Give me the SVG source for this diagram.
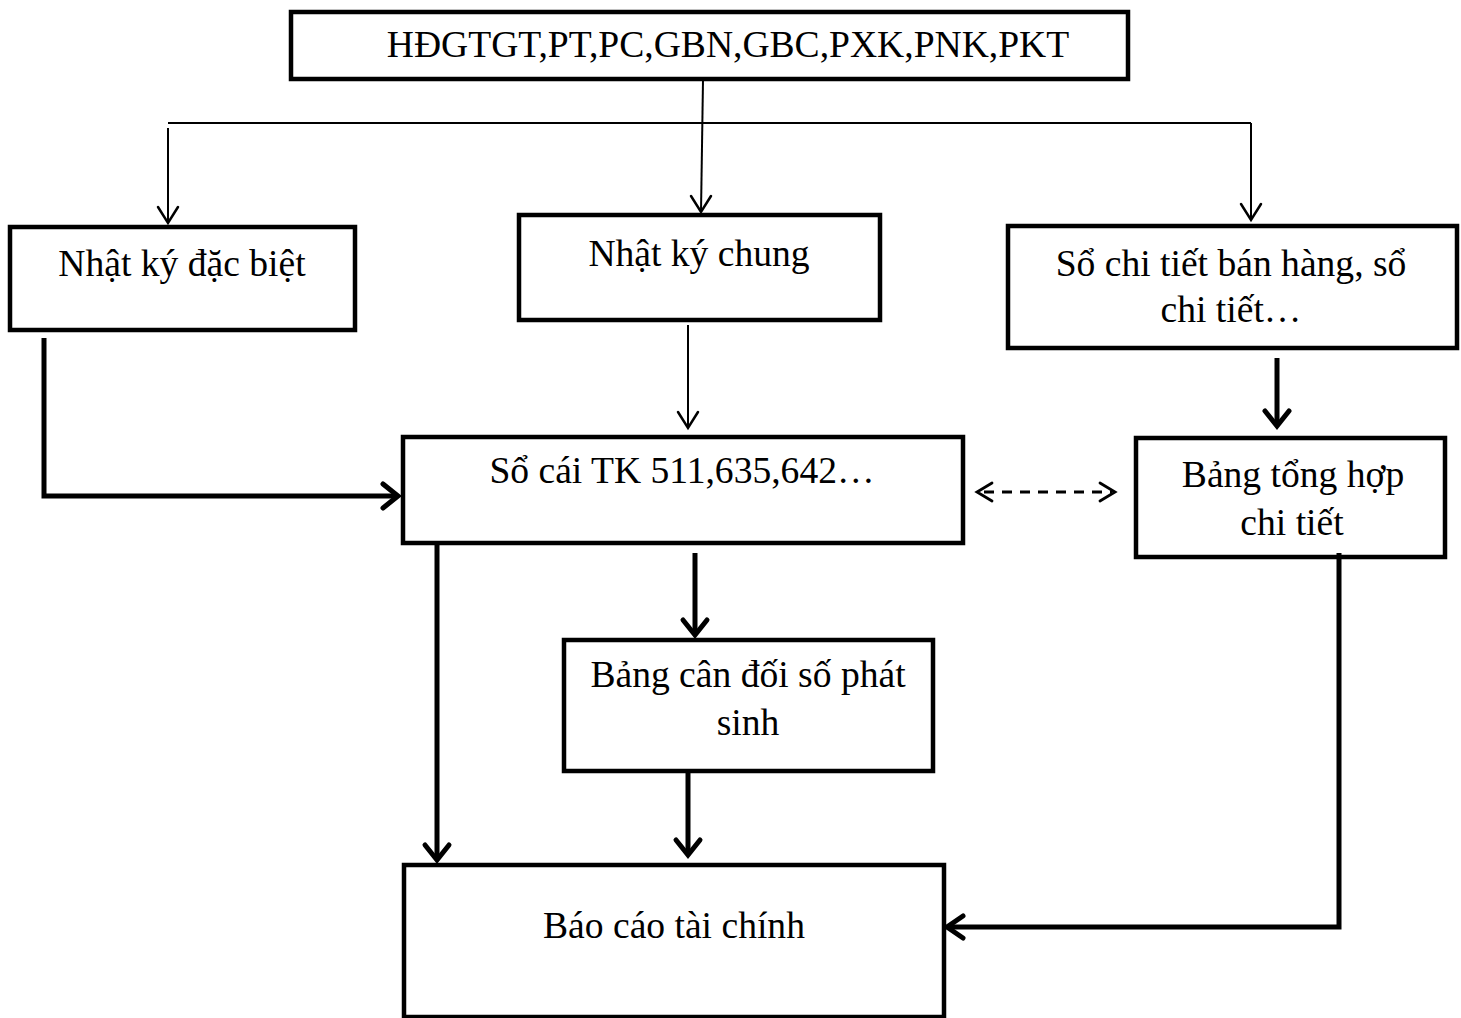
<svg xmlns="http://www.w3.org/2000/svg" width="1461" height="1018" viewBox="0 0 1461 1018">
  <style>
    .box { fill: #fff; stroke: #000; stroke-width: 4.5; }
    .lbl { font-family: "Liberation Serif", "Times New Roman", serif; font-size: 37.6px; fill: #000; text-anchor: middle; }
    .thin { fill: none; stroke: #000; stroke-width: 2; }
    .thick { fill: none; stroke: #000; stroke-width: 5; }
    .dash { fill: none; stroke: #000; stroke-width: 2.8; stroke-dasharray: 10 8; }
    .head { fill: none; stroke: #000; stroke-linecap: round; stroke-linejoin: miter; }
  </style>
  <rect width="1461" height="1018" fill="#fff"/>

  <!-- source documents -->
  <g id="n-chungtu">
    <rect class="box" x="291" y="12" width="837" height="67"/>
    <text class="lbl" x="728" y="57">HĐGTGT,PT,PC,GBN,GBC,PXK,PNK,PKT</text>
  </g>

  <g id="n-nkdb">
    <rect class="box" x="10" y="227" width="345" height="103"/>
    <text class="lbl" x="182" y="276">Nhật ký đặc biệt</text>
  </g>

  <g id="n-nkc">
    <rect class="box" x="519" y="215" width="361" height="105"/>
    <text class="lbl" x="699" y="266">Nhật ký chung</text>
  </g>

  <g id="n-sct">
    <rect class="box" x="1008" y="226" width="449" height="122"/>
    <text class="lbl" x="1231" y="276">Sổ chi tiết bán hàng, sổ</text>
    <text class="lbl" x="1231" y="322">chi tiết…</text>
  </g>

  <g id="n-socai">
    <rect class="box" x="403" y="437" width="560" height="106"/>
    <text class="lbl" x="682" y="483">Sổ cái TK 511,635,642…</text>
  </g>

  <g id="n-bth">
    <rect class="box" x="1136" y="438" width="309" height="119"/>
    <text class="lbl" x="1293" y="487">Bảng tổng hợp</text>
    <text class="lbl" x="1292" y="535">chi tiết</text>
  </g>

  <g id="n-bcd">
    <rect class="box" x="564" y="640" width="369" height="131"/>
    <text class="lbl" x="748" y="687">Bảng cân đối số phát</text>
    <text class="lbl" x="748" y="735">sinh</text>
  </g>

  <g id="n-bctc">
    <rect class="box" x="404" y="865" width="540" height="152"/>
    <text class="lbl" x="674" y="938">Báo cáo tài chính</text>
  </g>

  <g id="connectors">
    <!-- distribution bus from the source documents -->
    <line class="thin" x1="168" y1="123" x2="1251" y2="123"/>
    <line class="thin" x1="168" y1="128" x2="168" y2="223"/>
    <polyline class="head" stroke-width="2.5" points="158,207 168,223 178,207"/>
    <line class="thin" x1="703" y1="80" x2="701" y2="212"/>
    <polyline class="head" stroke-width="2.5" points="691,196 701,212 711,196"/>
    <line class="thin" x1="1251" y1="123" x2="1251" y2="220"/>
    <polyline class="head" stroke-width="2.5" points="1241,204 1251,220 1261,204"/>

    <!-- journals into the ledger -->
    <line class="thin" x1="688" y1="325" x2="688" y2="428"/>
    <polyline class="head" stroke-width="2.5" points="678,412 688,428 698,412"/>
    <polyline class="thick" points="44,338 44,496 398,496"/>
    <polyline class="head" stroke-width="5" points="383,484 398,496 383,508"/>

    <!-- detail books to summary -->
    <line class="thick" x1="1277" y1="358" x2="1277" y2="426"/>
    <polyline class="head" stroke-width="5" points="1265,411 1277,426 1289,411"/>

    <!-- reconciliation -->
    <line class="dash" x1="984" y1="492" x2="1112" y2="492"/>
    <polyline class="head" stroke-width="2.8" points="992,483 977,492 992,501"/>
    <polyline class="head" stroke-width="2.8" points="1100,483 1115,492 1100,501"/>

    <!-- ledger to trial balance and statements -->
    <line class="thick" x1="437" y1="545" x2="437" y2="860"/>
    <polyline class="head" stroke-width="5" points="425,845 437,860 449,845"/>
    <line class="thick" x1="695" y1="553" x2="695" y2="635"/>
    <polyline class="head" stroke-width="5" points="683,620 695,635 707,620"/>
    <line class="thick" x1="688" y1="773" x2="688" y2="855"/>
    <polyline class="head" stroke-width="5" points="676,840 688,855 700,840"/>

    <!-- summary to statements -->
    <polyline class="thick" points="1339,553 1339,927 947,927"/>
    <polyline class="head" stroke-width="5" points="963,916 947,927 963,938"/>
  </g>
</svg>
